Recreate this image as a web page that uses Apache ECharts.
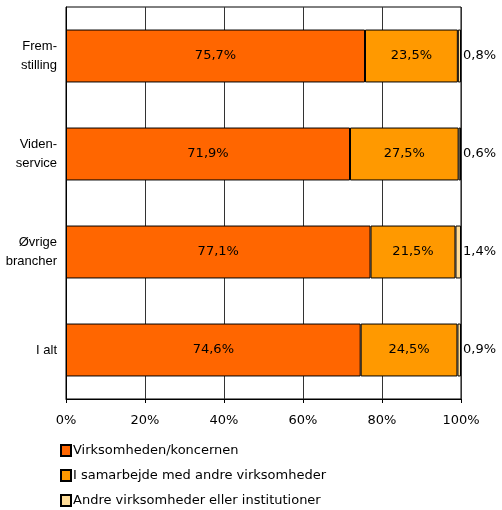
<!DOCTYPE html>
<html><head><meta charset="utf-8">
<script src="https://cdn.jsdelivr.net/npm/echarts@6/dist/echarts.min.js"></script>
<style>html,body{margin:0;padding:0;background:#fff}#c{width:502px;height:510px}</style>
</head><body><div id="c"></div>
<script>
const categories = ['Frem-\nstilling', 'Viden-\nservice', 'Øvrige\nbrancher', 'I alt'];
const seriesNames = ['Virksomheden/koncernen', 'I samarbejde med andre virksomheder', 'Andre virksomheder eller institutioner'];
const virksomheden = [75.7, 71.9, 77.1, 74.6];
const samarbejde = [23.5, 27.5, 21.5, 24.5];
const andre = [0.8, 0.6, 1.4, 0.9];
const tickValues = [0, 20, 40, 60, 80, 100];
const colors = ['#FF6600', '#FF9900', '#FFDD99'];

const fmt = v => v.toFixed(1).replace('.', ',') + '%';
const font = 'Liberation Sans, Arial, sans-serif';
const wide = 'DejaVu Sans, Verdana, sans-serif';
const chart = echarts.init(document.getElementById('c'));
const data = [virksomheden, samarbejde, andre];
chart.setOption({
  animation: false,
  textStyle: { fontFamily: font },
  grid: { left: 66, right: 41, top: 7, bottom: 111, show: true, borderColor: '#000', borderWidth: 1 },
  xAxis: {
    type: 'value', min: 0, max: 100, interval: 20,
    axisLine: { show: true, lineStyle: { color: '#000' } },
    axisTick: { show: true, length: 4, lineStyle: { color: '#000' } },
    axisLabel: { color: '#000', fontSize: 13, fontFamily: wide, margin: 15, formatter: v => tickValues.includes(v) ? v + '%' : '' },
    splitLine: { show: true, lineStyle: { color: '#333', width: 1 } }
  },
  yAxis: {
    type: 'category', inverse: true, data: categories,
    axisLine: { show: true, lineStyle: { color: '#000' } },
    axisTick: { show: false },
    axisLabel: { color: '#000', fontSize: 13, margin: 9, lineHeight: 19, align: 'right' }
  },
  legend: {
    orient: 'vertical', left: 60, top: 444, padding: 0, itemGap: 12, itemWidth: 10, itemHeight: 11,
    icon: 'rect', textStyle: { fontSize: 13, fontFamily: wide, color: '#000', padding: [0, 0, 0, -3] },
    data: seriesNames
  },
  series: seriesNames.map((name, i) => ({
    name, type: 'bar', stack: 'total', barWidth: '54%',
    data: data[i],
    itemStyle: { color: colors[i], borderColor: '#000', borderWidth: 1 },
    label: i < 2
      ? { show: true, position: 'inside', color: '#000', fontSize: 13, fontFamily: wide, formatter: p => fmt(p.value) }
      : { show: true, position: 'right', distance: 2, color: '#000', fontSize: 13, fontFamily: wide, formatter: p => fmt(p.value) }
  }))
});
</script></body></html>
